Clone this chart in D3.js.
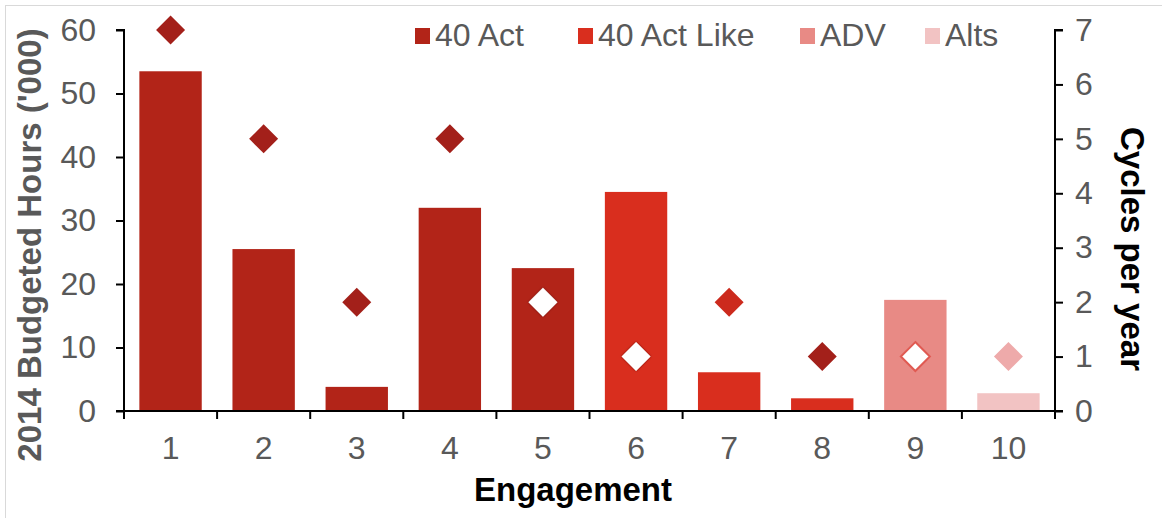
<!DOCTYPE html>
<html><head><meta charset="utf-8">
<script src="https://cdn.jsdelivr.net/npm/d3@7"></script>
<style>
body{margin:0;background:#fff;}
svg{display:block;font-family:"Liberation Sans",Arial,sans-serif;}
</style></head>
<body><svg id="chart" width="1162" height="518"></svg>
<script>
const categories = ["1","2","3","4","5","6","7","8","9","10"];
const hours = [53.5, 25.5, 3.8, 32, 22.5, 34.5, 6.1, 2.0, 17.5, 2.8];
const cycles = [7, 5, 2, 5, 2, 1, 2, 1, 1, 1];
const barGroup = ["40 Act","40 Act","40 Act","40 Act","40 Act","40 Act Like","40 Act Like","40 Act Like","ADV","Alts"];
const seriesNames = ["40 Act","40 Act Like","ADV","Alts"];
const seriesColors = ["#b22418","#d92e1e","#e88a85","#f2c3c3"];
const diamondFill = ["#a3201a","#a3201a","#a3201a","#a3201a","#ffffff","#ffffff","#cc2a1d","#a3201a","#ffffff","#eeaaaa"];
const diamondEdge = ["none","none","none","none","shadow","shadow","none","none","#e05a52","none"];
const leftTicks = [0,10,20,30,40,50,60];
const rightTicks = [0,1,2,3,4,5,6,7];

const svg = d3.select("#chart");
const L = 124, R = 1055, T = 30, B = 411;
const gray = "#595959";
const fontTick = 32, fontTitle = 33;

svg.append("rect").attr("x",5.5).attr("y",5.5).attr("width",1200).attr("height",600)
  .attr("fill","none").attr("stroke","#d9d9d9").attr("stroke-width",1);

const x = d3.scaleBand().domain(categories).range([L,R]).paddingInner(0.33).paddingOuter(0.165);
const yL = d3.scaleLinear().domain([0,60]).range([B,T]);
const yR = d3.scaleLinear().domain([0,7]).range([B,T]);
const color = d3.scaleOrdinal().domain(seriesNames).range(seriesColors);

// bars
svg.append("g").selectAll("rect").data(categories).join("rect")
  .attr("x", d => x(d)).attr("width", x.bandwidth())
  .attr("y", (d,i) => yL(hours[i])).attr("height", (d,i) => B - yL(hours[i]))
  .attr("fill", (d,i) => color(barGroup[i]));

// diamonds
const defs = svg.append("defs");
const f = defs.append("filter").attr("id","sh").attr("x","-50%").attr("y","-50%").attr("width","200%").attr("height","200%");
f.append("feDropShadow").attr("dx",0).attr("dy",0).attr("stdDeviation",1.2).attr("flood-color","#5a0f0a").attr("flood-opacity",0.8);
const dh = 14.5;
svg.append("g").selectAll("path").data(categories).join("path")
  .attr("transform", (d,i) => `translate(${x(d)+x.bandwidth()/2},${yR(cycles[i])})`)
  .attr("d", `M0,${-dh}L${dh},0L0,${dh}L${-dh},0Z`)
  .attr("fill", (d,i) => diamondFill[i])
  .attr("stroke", (d,i) => (diamondEdge[i] === "none" || diamondEdge[i] === "shadow") ? null : diamondEdge[i])
  .attr("stroke-width", 2)
  .attr("filter", (d,i) => diamondEdge[i] === "shadow" ? "url(#sh)" : null);

// axes
const axL = svg.append("g").attr("transform",`translate(${L},0)`)
  .call(d3.axisLeft(yL).tickValues(leftTicks).tickSize(8).tickPadding(20));
const axR = svg.append("g").attr("transform",`translate(${R},0)`)
  .call(d3.axisRight(yR).tickValues(rightTicks).tickFormat(d3.format("d")).tickSize(8).tickPadding(12));
const axB = svg.append("g").attr("transform",`translate(0,${B})`)
  .call(d3.axisBottom(x).tickSize(0).tickPadding(25));
const bounds = d3.range(categories.length+1).map(i => L + i*x.step());
svg.append("g").selectAll("line").data(bounds).join("line")
  .attr("x1", d=>d).attr("x2", d=>d).attr("y1", B).attr("y2", B+8)
  .attr("stroke","#000").attr("stroke-width",2);
svg.append("line").attr("x1",L-8).attr("x2",R+8).attr("y1",B).attr("y2",B).attr("stroke","#000").attr("stroke-width",2);

[axL,axR,axB].forEach(a => {
  a.selectAll(".domain").attr("stroke","#000").attr("stroke-width",2);
  a.selectAll(".tick line").attr("stroke","#000").attr("stroke-width",2);
  a.selectAll("text").attr("font-size",fontTick).attr("fill",gray).attr("font-family","Liberation Sans, Arial, sans-serif");
});
axB.select(".domain").remove();
axL.selectAll(".domain").attr("d",`M-8,${T}H0V${B}`);
axR.selectAll(".domain").attr("d",`M8,${T}H0V${B}`);

// titles
svg.append("text").attr("transform",`translate(41,245) rotate(-90)`).attr("text-anchor","middle")
  .attr("font-size",fontTitle).attr("font-weight","bold").attr("fill",gray).text("2014 Budgeted Hours ('000)");
svg.append("text").attr("transform",`translate(1121,249) rotate(90)`).attr("text-anchor","middle")
  .attr("font-size",fontTitle).attr("font-weight","bold").attr("fill","#000").text("Cycles per year");
svg.append("text").attr("x",573).attr("y",501).attr("text-anchor","middle")
  .attr("font-size",fontTitle).attr("font-weight","bold").attr("fill","#000").text("Engagement");

// legend
const legendX = [415, 578, 800, 925];
const lg = svg.append("g");
seriesNames.forEach((s,i) => {
  lg.append("rect").attr("x",legendX[i]).attr("y",28).attr("width",15).attr("height",16).attr("fill",seriesColors[i]);
  lg.append("text").attr("x",legendX[i]+20).attr("y",46).attr("font-size",fontTick).attr("fill",gray).text(s);
});
</script></body></html>
